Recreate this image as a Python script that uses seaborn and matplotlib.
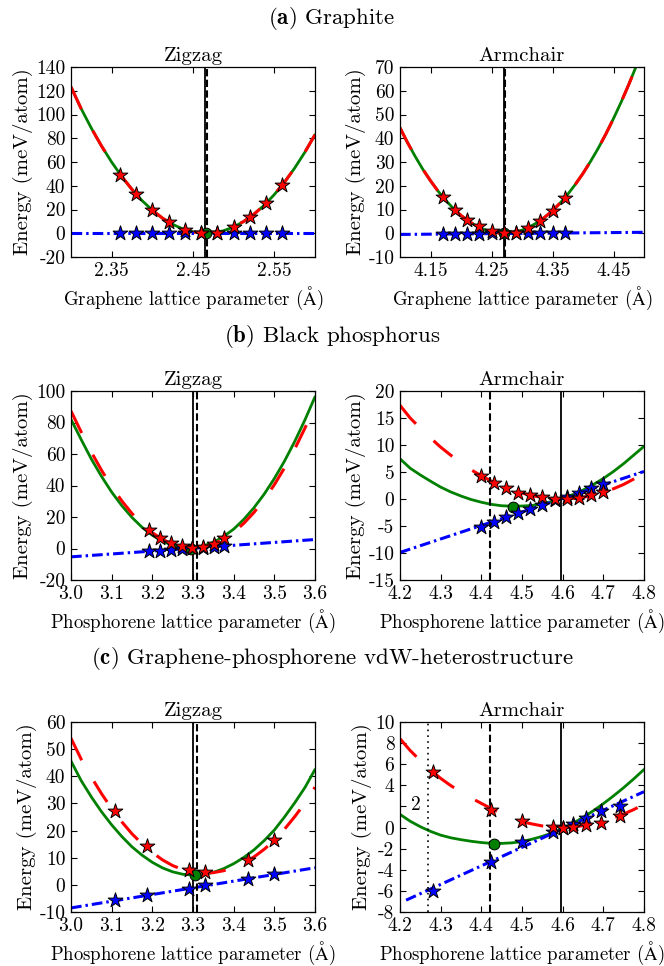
import matplotlib
matplotlib.use("Agg")
import matplotlib.pyplot as plt
import seaborn as sns

# ---------------- data ----------------
# (a) Graphite - Zigzag
a_zz_x_star = [2.36, 2.38, 2.40, 2.42, 2.44, 2.46, 2.48, 2.50, 2.52, 2.54, 2.56]
a_zz_red_star = [49.3, 32.8, 19.9, 9.2, 2.5, 0.0, 0.2, 5.0, 13.4, 25.2, 40.9]
a_zz_blue_star = [0.0, 0.0, 0.0, 0.0, 0.0, 0.0, 0.0, 0.0, 0.0, 0.0, 0.0]
a_zz_x_fit = [2.3000, 2.3125, 2.3250, 2.3375, 2.3500, 2.3625, 2.3750, 2.3875, 2.4000,
              2.4125, 2.4250, 2.4375, 2.4500, 2.4625, 2.4750, 2.4875, 2.5000, 2.5125,
              2.5250, 2.5375, 2.5500, 2.5625, 2.5750, 2.5875, 2.6000]
a_zz_red_fit = [123.2, 104.9, 88.5, 73.5, 59.9, 47.7, 36.9, 27.4, 19.4, 12.7, 7.5, 3.6,
                1.1, 0.1, 0.4, 2.1, 5.3, 10.0, 16.1, 23.6, 32.6, 43.0, 54.9, 68.2, 83.0]
a_zz_green_fit = [123.2, 104.9, 88.5, 73.5, 59.9, 47.7, 36.9, 27.4, 19.4, 12.7, 7.5, 3.6,
                  1.1, 0.1, 0.4, 2.1, 5.3, 10.0, 16.1, 23.6, 32.6, 43.0, 54.9, 68.2, 83.0]
a_zz_blue_x = [2.30, 2.60]
a_zz_blue_y = [0.0, 0.0]
a_zz_min = (2.466, 0.0)
a_zz_vsolid, a_zz_vdash = 2.4645, 2.467

# (a) Graphite - Armchair
a_ac_x_star = [4.17, 4.19, 4.21, 4.23, 4.25, 4.27, 4.29, 4.31, 4.33, 4.35, 4.37]
a_ac_red_star = [15.3, 9.9, 5.7, 2.9, 0.8, 0.0, 0.2, 2.2, 5.1, 9.5, 14.8]
a_ac_blue_star = [-0.3, -0.3, -0.2, -0.2, -0.1, 0.0, 0.0, 0.1, 0.1, 0.2, 0.2]
a_ac_x_fit = [4.1000, 4.1125, 4.1250, 4.1375, 4.1500, 4.1625, 4.1750, 4.1875, 4.2000,
              4.2125, 4.2250, 4.2375, 4.2500, 4.2625, 4.2750, 4.2875, 4.3000, 4.3125,
              4.3250, 4.3375, 4.3500, 4.3625, 4.3750, 4.3875, 4.4000, 4.4125, 4.4250,
              4.4375, 4.4500, 4.4625, 4.4750, 4.4875, 4.5000]
a_ac_red_fit = [44.4, 38.1, 32.3, 26.9, 22.1, 17.7, 13.9, 10.4, 7.5, 5.1, 3.1, 1.6, 0.6,
                0.1, 0.0, 0.5, 1.3, 2.7, 4.5, 6.8, 9.5, 12.7, 16.4, 20.6, 25.2, 30.3, 35.8,
                41.8, 48.3, 55.2, 62.6, 70.5, 78.8]
a_ac_green_fit = [44.4, 38.1, 32.3, 26.9, 22.1, 17.7, 13.9, 10.4, 7.5, 5.1, 3.1, 1.6, 0.6,
                  0.1, 0.0, 0.5, 1.3, 2.7, 4.5, 6.8, 9.5, 12.7, 16.4, 20.6, 25.2, 30.3, 35.8,
                  41.8, 48.3, 55.2, 62.6, 70.5, 78.8]
a_ac_blue_x = [4.10, 4.50]
a_ac_blue_y = [-0.5, 0.4]
a_ac_min = (4.271, 0.0)
a_ac_vsolid, a_ac_vdash = 4.270, 4.2715

# (b) Black phosphorus - Zigzag
b_zz_x_star = [3.193, 3.220, 3.247, 3.273, 3.298, 3.325, 3.351, 3.376]
b_zz_red_star = [11.7, 6.8, 3.4, 1.3, 0.3, 0.9, 3.0, 6.6]
b_zz_blue_star = [-1.9, -1.4, -0.9, -0.3, 0.1, 0.6, 1.1, 1.6]
b_zz_x_fit = [3.000, 3.025, 3.050, 3.075, 3.100, 3.125, 3.150, 3.175, 3.200, 3.225, 3.250,
              3.275, 3.300, 3.325, 3.350, 3.375, 3.400, 3.425, 3.450, 3.475, 3.500, 3.525,
              3.550, 3.575, 3.600]
b_zz_red_fit = [87.3, 74.0, 61.2, 49.7, 39.3, 30.2, 22.2, 15.5, 10.0, 5.8, 2.7, 0.9, 0.3,
                0.9, 2.8, 6.0, 10.3, 16.0, 22.9, 31.1, 40.5, 51.2, 63.1, 76.3, 90.1]
b_zz_green_fit = [82.0, 69.2, 56.8, 45.8, 35.8, 27.2, 19.7, 13.4, 8.4, 4.6, 2.0, 0.6, 0.5,
                  1.6, 3.9, 7.6, 12.3, 18.5, 25.9, 34.5, 44.4, 55.5, 67.9, 81.5, 96.3]
b_zz_blue_x = [3.0, 3.6]
b_zz_blue_y = [-5.3, 5.7]
b_zz_min = (3.295, 0.0)
b_zz_vsolid, b_zz_vdash = 3.300, 3.311

# (b) Black phosphorus - Armchair
b_ac_x_star = [4.40, 4.43, 4.46, 4.49, 4.52, 4.55, 4.58, 4.61, 4.64, 4.67, 4.70]
b_ac_red_star = [4.3, 3.0, 2.1, 1.2, 0.7, 0.35, 0.0, 0.0, 0.25, 0.65, 1.25]
b_ac_blue_star = [-5.1, -4.25, -3.4, -2.6, -1.85, -1.05, -0.25, 0.4, 1.15, 1.95, 2.7]
b_ac_x_fit = [4.200, 4.225, 4.250, 4.275, 4.300, 4.325, 4.350, 4.375, 4.400, 4.425, 4.450,
              4.475, 4.500, 4.525, 4.550, 4.575, 4.600, 4.625, 4.650, 4.675, 4.700, 4.725,
              4.750, 4.775, 4.800]
b_ac_red_fit = [17.35, 15.0, 13.1, 11.3, 9.6, 8.1, 6.7, 5.4, 4.3, 3.3, 2.4, 1.7, 1.1, 0.6,
                0.3, 0.1, 0.0, 0.1, 0.3, 0.7, 1.2, 1.9, 2.7, 3.7, 4.65]
b_ac_green_fit = [7.45, 5.7, 4.45, 3.3, 2.2, 1.3, 0.55, -0.1, -0.6, -1.0, -1.25, -1.33,
                  -1.3, -1.2, -0.85, -0.45, 0.1, 0.8, 1.65, 2.65, 3.8, 5.1, 6.55, 8.15, 9.75]
b_ac_blue_x = [4.2, 4.8]
b_ac_blue_y = [-9.9, 5.1]
b_ac_min = (4.477, -1.4)
b_ac_vsolid, b_ac_vdash = 4.595, 4.421

# (c) Heterostructure - Zigzag
c_zz_x_star = [3.109, 3.187, 3.290, 3.329, 3.436, 3.499]
c_zz_red_star = [27.1, 14.3, 5.35, 4.6, 9.0, 16.4]
c_zz_blue_star = [-5.7, -3.9, -1.6, 0.0, 2.3, 3.9]
c_zz_x_fit = [3.000, 3.025, 3.050, 3.075, 3.100, 3.125, 3.150, 3.175, 3.200, 3.225, 3.250,
              3.275, 3.300, 3.325, 3.350, 3.375, 3.400, 3.425, 3.450, 3.475, 3.500, 3.525,
              3.550, 3.575, 3.600]
c_zz_red_fit = [54.0, 46.3, 39.7, 33.6, 28.1, 23.2, 18.8, 15.1, 11.9, 9.2, 7.1, 5.6, 4.7,
                4.3, 4.5, 5.2, 6.4, 8.1, 10.3, 13.1, 16.4, 20.5, 25.1, 30.1, 36.0]
c_zz_green_fit = [45.6, 38.4, 32.4, 26.95, 22.1, 17.8, 14.0, 10.9, 8.3, 6.25, 4.8, 3.9, 3.6,
                  3.8, 4.6, 5.95, 7.8, 10.1, 12.9, 16.3, 20.2, 25.0, 30.2, 35.8, 42.5]
c_zz_blue_x = [3.0, 3.6]
c_zz_blue_y = [-8.5, 6.3]
c_zz_min = (3.305, 3.8)
c_zz_vsolid, c_zz_vdash = 3.300, 3.311

# (c) Heterostructure - Armchair
c_ac_x_star = [4.280, 4.425, 4.500, 4.576, 4.600, 4.625, 4.658, 4.695, 4.740]
c_ac_red_star = [5.3, 1.7, 0.65, 0.05, 0.0, 0.05, 0.2, 0.45, 1.05]
c_ac_blue_star = [-6.0, -3.25, -1.4, -0.43, 0.0, 0.3, 0.87, 1.6, 2.04]
c_ac_x_fit = [4.200, 4.225, 4.250, 4.275, 4.300, 4.325, 4.350, 4.375, 4.400, 4.425, 4.450,
              4.475, 4.500, 4.525, 4.550, 4.575, 4.600, 4.625, 4.650, 4.675, 4.700, 4.725,
              4.750, 4.775, 4.800]
c_ac_red_fit = [8.42, 7.30, 6.34, 5.46, 4.66, 3.97, 3.37, 2.80, 2.29, 1.79, 1.32, 0.86, 0.55,
                0.34, 0.15, 0.03, 0.0, 0.05, 0.18, 0.36, 0.6, 0.91, 1.28, 1.71, 2.2]
c_ac_green_fit = [1.25, 0.6, 0.08, -0.36, -0.72, -0.97, -1.15, -1.3, -1.42, -1.50, -1.50,
                  -1.45, -1.33, -1.1, -0.83, -0.51, -0.1, 0.39, 0.96, 1.58, 2.26, 3.0, 3.78,
                  4.62, 5.5]
c_ac_blue_x = [4.215, 4.8]
c_ac_blue_y = [-6.88, 3.4]
c_ac_min = (4.430, -1.53)
c_ac_vsolid, c_ac_vdash, c_ac_vdot = 4.595, 4.422, 4.270
c_ac_label2 = (4.240, 2.1)

# axis ticks / labels
a_zz_xticks = [2.35, 2.45, 2.55]; a_zz_xticklabels = ["2.35", "2.45", "2.55"]
a_zz_yticks = [-20, 0, 20, 40, 60, 80, 100, 120, 140]
a_ac_xticks = [4.15, 4.25, 4.35, 4.45]; a_ac_xticklabels = ["4.15", "4.25", "4.35", "4.45"]
a_ac_yticks = [-10, 0, 10, 20, 30, 40, 50, 60, 70]
zz_xticks = [3.0, 3.1, 3.2, 3.3, 3.4, 3.5, 3.6]; zz_xticklabels = ["3.0", "3.1", "3.2", "3.3", "3.4", "3.5", "3.6"]
ac_xticks = [4.2, 4.3, 4.4, 4.5, 4.6, 4.7, 4.8]; ac_xticklabels = ["4.2", "4.3", "4.4", "4.5", "4.6", "4.7", "4.8"]
b_zz_yticks = [-20, 0, 20, 40, 60, 80, 100]
b_ac_yticks = [-15, -10, -5, 0, 5, 10, 15, 20]
c_zz_yticks = [-10, 0, 10, 20, 30, 40, 50, 60]
c_ac_yticks = [-8, -6, -4, -2, 0, 2, 4, 6, 8, 10]
c_ac_yticklabels = ["-8", "-6", "-4", "-2", "0", "", "4", "6", "8", "10"]

# ---------------- style ----------------
sns.set_style("ticks")
plt.rcParams.update({
    "font.family": ["cmr10", "DejaVu Serif"],
    "mathtext.fontset": "cm",
    "axes.unicode_minus": False,
    "axes.formatter.use_mathtext": True,
    "xtick.direction": "in", "ytick.direction": "in",
    "xtick.top": True, "ytick.right": True,
    "xtick.major.size": 4.5, "ytick.major.size": 4.5,
    "xtick.major.width": 0.8, "ytick.major.width": 0.8,
    "axes.linewidth": 0.9,
    "axes.edgecolor": "black",
    "xtick.color": "black", "ytick.color": "black",
    "text.color": "black", "axes.labelcolor": "black",
})

TICK_FS = 14
XLABEL_FS = 13.5
YLABEL_FS = 15
TITLE_FS = 15
HEAD_FS = 16.5

RED = "#ff0000"
GREEN = "#008000"
BLUE = "#0000ff"

fig = plt.figure(figsize=(6.64, 9.66), dpi=100)

colL, colR, w = 71 / 664, 400 / 664, 244 / 664
rows = [(1 - 257 / 966, 190 / 966), (1 - 580 / 966, 189 / 966), (1 - 912 / 966, 190 / 966)]


def panel(pos, title, xlabel, xlim, ylim, xticks, xticklabels, yticks, yticklabels,
          x_fit, red_fit, green_fit, blue_x, blue_y, x_star, red_star, blue_star,
          vmin, vsolid, vdash, vdot=None):
    ax = fig.add_axes(pos)
    sns.lineplot(x=x_fit, y=green_fit, ax=ax, color=GREEN, lw=2.0, sort=False,
                 errorbar=None, zorder=2)
    sns.lineplot(x=x_fit, y=red_fit, ax=ax, color=RED, lw=2.2, sort=False,
                 errorbar=None, linestyle=(0, (8, 8)), zorder=2.1)
    sns.lineplot(x=blue_x, y=blue_y, ax=ax, color=BLUE, lw=2.2, sort=False,
                 errorbar=None, linestyle=(0, (3.5, 1.3, 0.8, 1.3)), zorder=2.2)
    ax.axvline(vsolid, color="black", lw=1.3, zorder=3)
    ax.axvline(vdash, color="black", lw=1.5, linestyle=(0, (3.5, 1.6)), zorder=3)
    if vdot is not None:
        ax.axvline(vdot, color="black", lw=1.2, linestyle=(0, (1, 2.5)), zorder=3)
    sns.scatterplot(x=[vmin[0]], y=[vmin[1]], ax=ax, marker="o", s=60, color=GREEN,
                    edgecolor="black", linewidth=0.7, zorder=3.5)
    sns.scatterplot(x=x_star, y=blue_star, ax=ax, marker="*", s=125, color=BLUE,
                    edgecolor="black", linewidth=0.7, zorder=4)
    sns.scatterplot(x=x_star, y=red_star, ax=ax, marker="*", s=125, color=RED,
                    edgecolor="black", linewidth=0.7, zorder=4.1)
    ax.set_xlim(*xlim)
    ax.set_ylim(*ylim)
    ax.set_xticks(xticks)
    ax.set_xticklabels(xticklabels, fontsize=TICK_FS)
    ax.set_yticks(yticks)
    ax.set_yticklabels(yticklabels, fontsize=TICK_FS)
    ax.tick_params(axis="both", pad=4)
    ax.minorticks_off()
    ax.set_title(title, fontsize=TITLE_FS, pad=4)
    ax.set_xlabel(xlabel, fontsize=XLABEL_FS, labelpad=3)
    ax.set_ylabel("Energy (meV/atom)", fontsize=YLABEL_FS, labelpad=2)
    for s in ax.spines.values():
        s.set_visible(True)
    return ax


graphene_lbl = r"Graphene lattice parameter ($\mathrm{\AA}$)"
phos_lbl = r"Phosphorene lattice parameter ($\mathrm{\AA}$)"

# Row a
panel([colL, rows[0][0], w, rows[0][1]], "Zigzag", graphene_lbl, (2.30, 2.60), (-20, 140),
      a_zz_xticks, a_zz_xticklabels, a_zz_yticks, [str(v) for v in a_zz_yticks],
      a_zz_x_fit, a_zz_red_fit, a_zz_green_fit, a_zz_blue_x, a_zz_blue_y,
      a_zz_x_star, a_zz_red_star, a_zz_blue_star, a_zz_min, a_zz_vsolid, a_zz_vdash)
panel([colR, rows[0][0], w, rows[0][1]], "Armchair", graphene_lbl, (4.10, 4.50), (-10, 70),
      a_ac_xticks, a_ac_xticklabels, a_ac_yticks, [str(v) for v in a_ac_yticks],
      a_ac_x_fit, a_ac_red_fit, a_ac_green_fit, a_ac_blue_x, a_ac_blue_y,
      a_ac_x_star, a_ac_red_star, a_ac_blue_star, a_ac_min, a_ac_vsolid, a_ac_vdash)

# Row b
panel([colL, rows[1][0], w, rows[1][1]], "Zigzag", phos_lbl, (3.0, 3.6), (-20, 100),
      zz_xticks, zz_xticklabels, b_zz_yticks, [str(v) for v in b_zz_yticks],
      b_zz_x_fit, b_zz_red_fit, b_zz_green_fit, b_zz_blue_x, b_zz_blue_y,
      b_zz_x_star, b_zz_red_star, b_zz_blue_star, b_zz_min, b_zz_vsolid, b_zz_vdash)
panel([colR, rows[1][0], w, rows[1][1]], "Armchair", phos_lbl, (4.2, 4.8), (-15, 20),
      ac_xticks, ac_xticklabels, b_ac_yticks, [str(v) for v in b_ac_yticks],
      b_ac_x_fit, b_ac_red_fit, b_ac_green_fit, b_ac_blue_x, b_ac_blue_y,
      b_ac_x_star, b_ac_red_star, b_ac_blue_star, b_ac_min, b_ac_vsolid, b_ac_vdash)

# Row c
panel([colL, rows[2][0], w, rows[2][1]], "Zigzag", phos_lbl, (3.0, 3.6), (-10, 60),
      zz_xticks, zz_xticklabels, c_zz_yticks, [str(v) for v in c_zz_yticks],
      c_zz_x_fit, c_zz_red_fit, c_zz_green_fit, c_zz_blue_x, c_zz_blue_y,
      c_zz_x_star, c_zz_red_star, c_zz_blue_star, c_zz_min, c_zz_vsolid, c_zz_vdash)
ax6 = panel([colR, rows[2][0], w, rows[2][1]], "Armchair", phos_lbl, (4.2, 4.8), (-8, 10),
            ac_xticks, ac_xticklabels, c_ac_yticks, c_ac_yticklabels,
            c_ac_x_fit, c_ac_red_fit, c_ac_green_fit, c_ac_blue_x, c_ac_blue_y,
            c_ac_x_star, c_ac_red_star, c_ac_blue_star, c_ac_min, c_ac_vsolid, c_ac_vdash,
            vdot=c_ac_vdot)
ax6.text(c_ac_label2[0], c_ac_label2[1], "2", fontsize=TICK_FS, ha="center", va="center")

# Section headings
fig.text(0.5, 1 - 18 / 966, r"$\mathbf{(a)}$ Graphite", fontsize=HEAD_FS, ha="center", va="center")
fig.text(0.5, 1 - 337 / 966, r"$\mathbf{(b)}$ Black phosphorus", fontsize=HEAD_FS, ha="center", va="center")
fig.text(0.5, 1 - 658 / 966, r"$\mathbf{(c)}$ Graphene-phosphorene vdW-heterostructure",
         fontsize=HEAD_FS, ha="center", va="center")

fig.savefig("out.png", dpi=100)
